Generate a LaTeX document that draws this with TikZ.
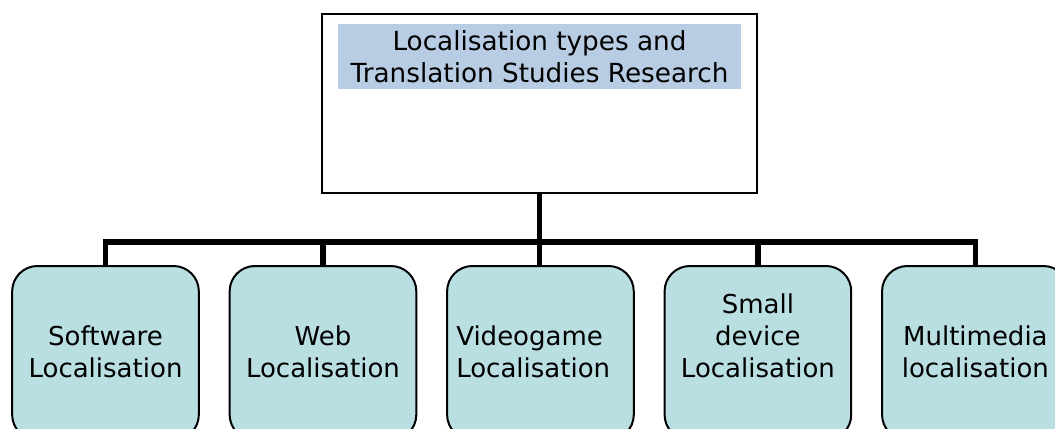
\documentclass[tikz,border=0pt]{standalone}
\usepackage{fontspec}
\setmainfont{DejaVu Sans}
\usetikzlibrary{positioning}

\definecolor{titleblue}{RGB}{184,204,228}
\definecolor{boxteal}{RGB}{185,223,226}

\begin{document}
\begin{tikzpicture}[x=0.75pt,y=-0.75pt,
		topbox/.style={draw,line width=1.4pt,minimum width=326pt,minimum height=134pt,inner sep=0pt},
		titlebar/.style={fill=titleblue,minimum width=302pt,minimum height=48pt,align=center,inner sep=0pt,font=\fontsize{19.7}{24}\selectfont},
		typebox/.style={draw,line width=1.5pt,fill=boxteal,rounded corners=19pt,minimum width=140pt,minimum height=130.5pt,inner sep=0pt},
		typetext/.style={align=center,inner sep=0pt,anchor=south,font=\fontsize{19.5}{24}\selectfont},
		conn/.style={line width=4.3pt}]
		\useasboundingbox (0,0) rectangle (1055,428);

		% root of the tree
		\node[topbox] (root) at (539.5,103.5) {};
		\node[titlebar,below=8.25pt of root.north] (title) {Localisation types and\\Translation Studies Research};

		% localisation types
		\node[typebox] (software) at (105.5,353) {};
		\node[typebox,right=21.6pt of software] (web) {};
		\node[typebox,right=21.6pt of web] (videogame) {};
		\node[typebox,right=21.6pt of videogame] (smalldev) {};
		\node[typebox,right=21.6pt of smalldev] (multimedia) {};

		\node[typetext] (softwaretxt) at (software.center |- 0,378) {Software\\Localisation};
		\node[typetext] (webtxt) at (web.center |- 0,378) {Web\\Localisation};
		\node[typetext,anchor=south west,align=left] (videogametxt) at (456,378) {Videogame\\Localisation};
		\node[typetext] (smalldevtxt) at (smalldev.center |- 0,378) {Small\\device\\Localisation};
		\node[typetext] (multimediatxt) at (multimedia.center |- 0,378) {Multimedia\\localisation};

		% connectors
		\coordinate (bar) at (0,242);
		\begin{scope}[conn]
			\draw (root.south) |- (software.north |- bar) -- (software.north);
			\draw (root.south) |- (web.north |- bar) -- (web.north);
			\draw (root.south) -- (root.south |- videogame.north);
			\draw (root.south) |- (smalldev.north |- bar) -- (smalldev.north);
			\draw (root.south) |- (multimedia.north |- bar) -- (multimedia.north);
		\end{scope}
	\end{tikzpicture}
\end{document}
